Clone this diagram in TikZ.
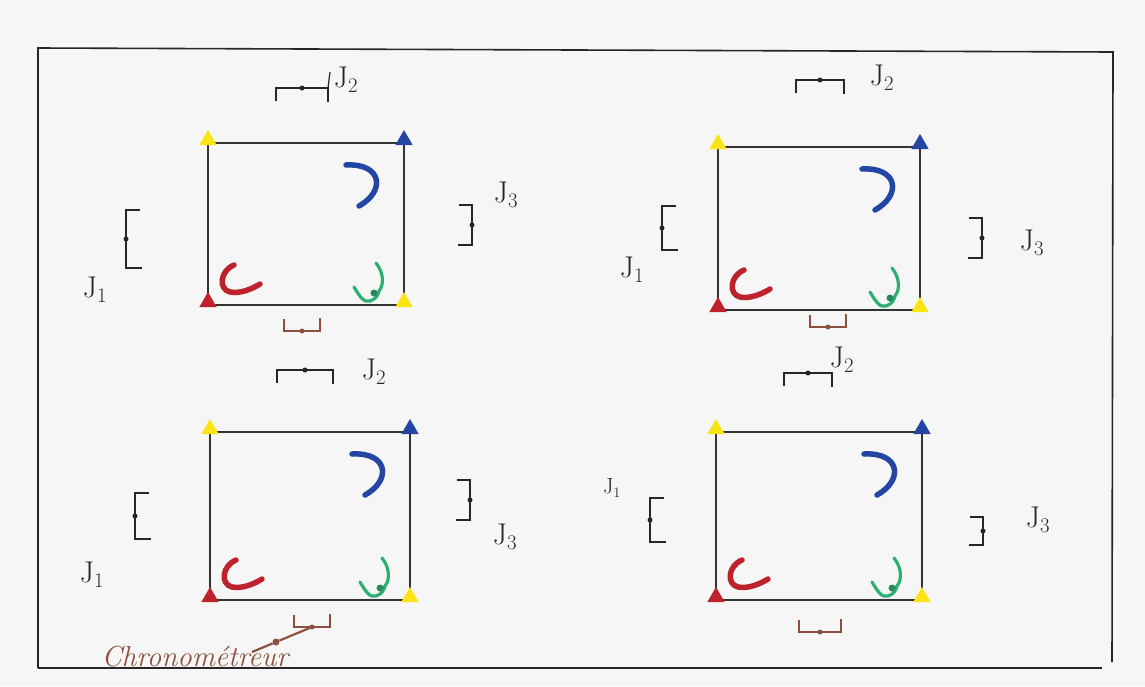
\documentclass[tikz,border=0pt]{standalone}
\usetikzlibrary{shapes.geometric}
\definecolor{cyel}{RGB}{250,228,20}
\definecolor{cblue}{RGB}{35,70,165}
\definecolor{cred}{RGB}{190,35,45}
\definecolor{cgreen}{RGB}{45,175,115}
\definecolor{cbrown}{RGB}{140,80,60}
\definecolor{paper}{RGB}{246,246,246}
\tikzset{
  frame/.style={line width=1.6pt, black!85},
  edge/.style={line width=1.2pt, black!80},
  tri/.style={regular polygon, regular polygon sides=3, inner sep=0pt, minimum size=20pt},
  stroke/.style={line width=5.5pt, line cap=round},
  jline/.style={line width=1.2pt, black!85},
  cline/.style={line width=2.2pt, cbrown},
  dotn/.style={circle, fill, inner sep=0pt, minimum size=5pt},
  lab/.style={font=\fontsize{30}{32}\selectfont, text=black!85, inner sep=1pt},
}
% court: name, x0, y0, x1, y1
\newcommand\court[5]{%
  \coordinate (#1tl) at (#2,#3);
  \coordinate (#1tr) at (#4,#3);
  \coordinate (#1bl) at (#2,#5);
  \coordinate (#1br) at (#4,#5);
  \draw[edge] (#1tl) -- (#1tr) -- (#1br) -- (#1bl) -- cycle;
  \node[tri, fill=cyel] (#1Y1) at ([yshift=3pt]#1tl) {};
  \node[tri, fill=cblue] (#1B) at ([yshift=3pt]#1tr) {};
  \node[tri, fill=cred] (#1R) at ([yshift=3pt]#1bl) {};
  \node[tri, fill=cyel] (#1Y2) at ([yshift=3pt]#1br) {};
  \begin{scope}[shift={(#1bl)}]
    \draw[stroke, cred] (26,-40) .. controls (12,-34) and (10,-16) .. (22,-13)
      .. controls (32,-11) and (44,-16) .. (52,-21);
  \end{scope}
  \begin{scope}[shift={(#1tr)}]
    \draw[stroke, cblue] (-58,22) .. controls (-22,20) and (-18,48) .. (-45,63);
  \end{scope}
  \begin{scope}[shift={(#1br)}]
    \draw[line width=3.2pt, line cap=round, cgreen] (-50,-18) .. controls (-44,-8) and (-40,-2) .. (-34,-4)
      .. controls (-28,-6) and (-26,-10) .. (-25,-14)
      .. controls (-20,-20) and (-20,-32) .. (-28,-42);
    \fill[cgreen!80!black] (-30,-12) circle (3.5pt);
  \end{scope}
}
% judge with legs down: name, x, y, half width
\newcommand\jtop[4]{%
  \node[dotn, black!85] (#1) at (#2,#3) {};
  \draw[jline] (#2-#4,#3+13) -- (#2-#4,#3) -- (#2+#4,#3) -- (#2+#4,#3+14);
}
% judge on left side: name, x, y, half height (ticks to the right)
\newcommand\jleft[4]{%
  \node[dotn, black!85] (#1) at (#2,#3) {};
  \draw[jline] (#2+14,#3-#4) -- (#2,#3-#4) -- (#2,#3+#4) -- (#2+16,#3+#4);
}
% judge on right side (ticks to the left)
\newcommand\jright[4]{%
  \node[dotn, black!85] (#1) at (#2,#3) {};
  \draw[jline] (#2-13,#3-#4) -- (#2,#3-#4) -- (#2,#3+#4) -- (#2-14,#3+#4);
}
% timekeeper table, legs up
\newcommand\jbot[4]{%
  \node[dotn, cbrown] (#1) at (#2,#3) {};
  \draw[cline] (#2-#4,#3-12) -- (#2-#4,#3) -- (#2+#4,#3) -- (#2+#4,#3-13);
}
\begin{document}
\begin{tikzpicture}[x=1pt,y=-1pt]
\useasboundingbox (0,0) rectangle (1145,686);
\fill[paper] (0,0) rectangle (1145,686);
% outer frame
\coordinate (f1) at (38,48);
\coordinate (f2) at (1113,52);
\coordinate (f3) at (1112,662);
\coordinate (f4) at (38,668);
\coordinate (f5) at (1102,668);
\draw[frame] (f4) -- (f1) -- (f2) -- (f3);
\draw[frame] (f4) -- (f5);

% ---- court 1 (top left)
\court{a}{208}{143}{404}{305}
\jtop{aJ2}{302}{88}{26}
\draw[jline] (328,88) -- (330,72);
\node[lab] (aL2) at (346,80) {J$_2$};
\jleft{aJ1}{126}{239}{29}
\node[lab] (aL1) at (95,290) {J$_1$};
\jright{aJ3}{472}{225}{20}
\node[lab] (aL3) at (506,195) {J$_3$};
\jbot{aC}{302}{331}{18}

% ---- court 2 (top right)
\court{b}{718}{147}{920}{310}
\jtop{bJ2}{820}{80}{24}
\node[lab] (bL2) at (882,78) {J$_2$};
\jleft{bJ1}{662}{228}{22}
\node[lab] (bL1) at (632,270) {J$_1$};
\jright{bJ3}{982}{238}{20}
\node[lab] (bL3) at (1032,243) {J$_3$};
\jbot{bC}{828}{327}{18}

% ---- court 3 (bottom left)
\court{c}{210}{432}{410}{600}
\jtop{cJ2}{305}{370}{28}
\node[lab] (cL2) at (374,372) {J$_2$};
\jleft{cJ1}{135}{516}{23}
\node[lab] (cL1) at (92,575) {J$_1$};
\jright{cJ3}{470}{500}{20}
\node[lab] (cL3) at (505,537) {J$_3$};
\jbot{cC}{312}{627}{18}
\node[dotn, cbrown, minimum size=7pt] (cD) at (276,642) {};
\coordinate (cE) at (252,652);
\draw[cline] (cC) -- (cD) -- (cE);
\node[font=\fontsize{29}{31}\selectfont\itshape, text=cbrown, inner sep=0pt] (chr) at (195,657) {Chronométreur};

% ---- court 4 (bottom right)
\court{d}{716}{432}{922}{600}
\jtop{dJ2}{808}{373}{24}
\node[lab] (dL2) at (842,360) {J$_2$};
\jleft{dJ1}{650}{520}{22}
\node[lab, font=\fontsize{22}{24}\selectfont] (dL1) at (612,488) {J$_1$};
\jright{dJ3}{983}{531}{14}
\node[lab] (dL3) at (1038,520) {J$_3$};
\jbot{dC}{820}{632}{21}
\end{tikzpicture}
\end{document}
